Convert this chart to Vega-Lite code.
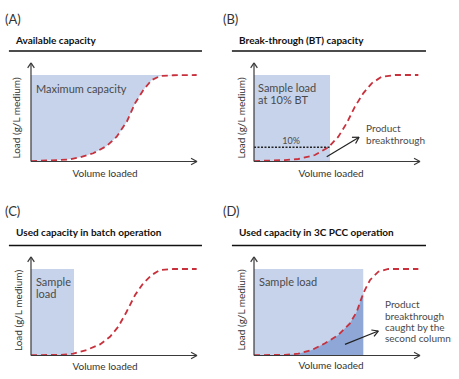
{
  "$schema": "https://vega.github.io/schema/vega-lite/v6.json",
  "background": "white",
  "padding": 0,
  "spacing": 0,
  "columns": 2,
  "bounds": "flush",
  "config": {"view": {"stroke": null}, "text": {"font": "Lato"}},
  "concat": [
        {
          "width": 222, "height": 189,
          "encoding": {
            "x": {"field": "x", "type": "quantitative", "scale": {"domain": [-18.67, 115.06], "nice": false, "zero": false}, "axis": null},
            "y": {"field": "y", "type": "quantitative", "scale": {"domain": [-31.79, 186.71], "nice": false, "zero": false}, "axis": null}
          },
          "layer": [
            {"data": {"values": [{"x":0,"y":0.5},{"x":17.5,"y":1.7},{"x":23.5,"y":2.5},{"x":29.5,"y":4.9},{"x":37.5,"y":9.5},{"x":45.6,"y":17.9},{"x":51.6,"y":28.7},{"x":57.7,"y":46.0},{"x":62.7,"y":67.3},{"x":67.7,"y":82.7},{"x":72.7,"y":94.2},{"x":77.7,"y":98.8},{"x":85.7,"y":99.7},{"x":99.8,"y":100}]},
             "mark": {"type": "area", "color": "#c6d3ea"}, "encoding": {"y2": {"datum": 100}}},
            {"data": {"values": [{"x":0,"y":0.5},{"x":17.5,"y":1.7},{"x":23.5,"y":2.5},{"x":29.5,"y":4.9},{"x":37.5,"y":9.5},{"x":45.6,"y":17.9},{"x":51.6,"y":28.7},{"x":57.7,"y":46.0},{"x":62.7,"y":67.3},{"x":67.7,"y":82.7},{"x":72.7,"y":94.2},{"x":77.7,"y":98.8},{"x":85.7,"y":99.7},{"x":99.8,"y":100}]},
             "mark": {"type": "line", "color": "#c8303c", "strokeDash": [6, 4], "strokeWidth": 1.8}},
            {"data": {"values": [{"x":0,"y":0,"x2":0,"y2":114},{"x":0,"y":0,"x2":100,"y2":0},{"x":0,"y":114,"x2":-2,"y2":108.2},{"x":0,"y":114,"x2":2,"y2":108.2},{"x":100,"y":0,"x2":96.4,"y2":3.8},{"x":100,"y":0,"x2":96.4,"y2":-3.8}]},
             "mark": {"type": "rule", "color": "#3a3a3a", "strokeWidth": 1.2}, "encoding": {"x2": {"field": "x2"}, "y2": {"field": "y2"}}},
            {"data": {"values": [{"x":-13.3,"y":127.7,"x2":103,"y2":127.7}]},
             "mark": {"type": "rule", "color": "#111", "strokeWidth": 1.6}, "encoding": {"x2": {"field": "x2"}, "y2": {"field": "y2"}}},
            {"data": {"values": [{"x":-15.7,"y":158.4,"label":"(A)"}]},
             "mark": {"type": "text", "align": "left", "baseline": "alphabetic", "fontSize": 13, "color": "#333"}, "encoding": {"text": {"field": "label"}}},
            {"data": {"values": [{"x":-9.0,"y":135.8,"label":"Available capacity"}]},
             "mark": {"type": "text", "align": "left", "baseline": "alphabetic", "fontSize": 10, "fontWeight": "bold", "color": "#111"}, "encoding": {"text": {"field": "label"}}},
            {"data": {"values": [{"x":3.0,"y":79.2,"label":"Maximum capacity"}]},
             "mark": {"type": "text", "align": "left", "baseline": "alphabetic", "fontSize": 11, "color": "#4a4a4a"}, "encoding": {"text": {"field": "label"}}},
            {"data": {"values": [{"x":44.6,"y":-13.9,"label":"Volume loaded"}]},
             "mark": {"type": "text", "align": "center", "baseline": "middle", "fontSize": 10, "color": "#333"}, "encoding": {"text": {"field": "label"}}},
            {"data": {"values": [{"x":-8.4,"y":50.3,"label":"Load (g/L medium)"}]},
             "mark": {"type": "text", "align": "center", "baseline": "middle", "fontSize": 10, "angle": 270, "color": "#333"}, "encoding": {"text": {"field": "label"}}}
          ]
        },
        {
          "width": 237, "height": 189,
          "encoding": {
            "x": {"field": "x", "type": "quantitative", "scale": {"domain": [-19.28, 123.49], "nice": false, "zero": false}, "axis": null},
            "y": {"field": "y", "type": "quantitative", "scale": {"domain": [-31.79, 186.71], "nice": false, "zero": false}, "axis": null}
          },
          "layer": [
            {"data": {"values": [{"x":0,"y":0,"x2":45.8,"y2":100}]},
             "mark": {"type": "rect", "color": "#c6d3ea"}, "encoding": {"x2": {"field": "x2"}, "y2": {"field": "y2"}}},
            {"data": {"values": [{"x":0,"y":16.5,"x2":45.8,"y2":16.5}]},
             "mark": {"type": "rule", "color": "#222", "strokeWidth": 1.5, "strokeDash": [2, 1.5]}, "encoding": {"x2": {"field": "x2"}, "y2": {"field": "y2"}}},
            {"data": {"values": [{"x":0,"y":0.5},{"x":18.7,"y":1.7},{"x":26.7,"y":2.9},{"x":36.7,"y":7.5},{"x":44.8,"y":16.4},{"x":50.8,"y":28.7},{"x":55.8,"y":44.2},{"x":60.8,"y":63.4},{"x":65.8,"y":78.8},{"x":70.9,"y":90.4},{"x":76.9,"y":98},{"x":84.9,"y":100},{"x":99,"y":100}]},
             "mark": {"type": "line", "color": "#c8303c", "strokeDash": [6, 4], "strokeWidth": 1.8}},
            {"data": {"values": [{"x":0,"y":0,"x2":0,"y2":114},{"x":0,"y":0,"x2":100,"y2":0},{"x":0,"y":114,"x2":-2,"y2":108.2},{"x":0,"y":114,"x2":2,"y2":108.2},{"x":100,"y":0,"x2":96.4,"y2":3.8},{"x":100,"y":0,"x2":96.4,"y2":-3.8}]},
             "mark": {"type": "rule", "color": "#3a3a3a", "strokeWidth": 1.2}, "encoding": {"x2": {"field": "x2"}, "y2": {"field": "y2"}}},
            {"data": {"values": [{"x":43.8,"y":5.5,"x2":63.3,"y2":28.0},{"x":63.3,"y":28.0,"x2":59.0,"y2":28.0},{"x":63.3,"y":28.0,"x2":61.2,"y2":20.8}]},
             "mark": {"type": "rule", "color": "#222", "strokeWidth": 1.2}, "encoding": {"x2": {"field": "x2"}, "y2": {"field": "y2"}}},
            {"data": {"values": [{"x":-13.3,"y":127.7,"x2":103.6,"y2":127.7}]},
             "mark": {"type": "rule", "color": "#111", "strokeWidth": 1.6}, "encoding": {"x2": {"field": "x2"}, "y2": {"field": "y2"}}},
            {"data": {"values": [{"x":-18.7,"y":158.4,"label":"(B)"}]},
             "mark": {"type": "text", "align": "left", "baseline": "alphabetic", "fontSize": 13, "color": "#333"}, "encoding": {"text": {"field": "label"}}},
            {"data": {"values": [{"x":-9.0,"y":135.8,"label":"Break-through (BT) capacity"}]},
             "mark": {"type": "text", "align": "left", "baseline": "alphabetic", "fontSize": 10, "fontWeight": "bold", "color": "#111"}, "encoding": {"text": {"field": "label"}}},
            {"data": {"values": [{"x":2.4,"y":79.8,"label":"Sample load"},{"x":2.4,"y":65.9,"label":"at 10% BT"}]},
             "mark": {"type": "text", "align": "left", "baseline": "alphabetic", "fontSize": 11, "color": "#4a4a4a"}, "encoding": {"text": {"field": "label"}}},
            {"data": {"values": [{"x":22.3,"y":19.7,"label":"10%"}]},
             "mark": {"type": "text", "align": "center", "baseline": "alphabetic", "fontSize": 9, "color": "#4a4a4a"}, "encoding": {"text": {"field": "label"}}},
            {"data": {"values": [{"x":67.5,"y":34.1,"label":"Product"},{"x":67.5,"y":20.8,"label":"breakthrough"}]},
             "mark": {"type": "text", "align": "left", "baseline": "alphabetic", "fontSize": 10, "color": "#4a4a4a"}, "encoding": {"text": {"field": "label"}}},
            {"data": {"values": [{"x":46.4,"y":-13.9,"label":"Volume loaded"}]},
             "mark": {"type": "text", "align": "center", "baseline": "middle", "fontSize": 10, "color": "#333"}, "encoding": {"text": {"field": "label"}}},
            {"data": {"values": [{"x":-7.5,"y":50.3,"label":"Load (g/L medium)"}]},
             "mark": {"type": "text", "align": "center", "baseline": "middle", "fontSize": 10, "angle": 270, "color": "#333"}, "encoding": {"text": {"field": "label"}}}
          ]
        },
        {
          "width": 222, "height": 190,
          "encoding": {
            "x": {"field": "x", "type": "quantitative", "scale": {"domain": [-18.67, 115.06], "nice": false, "zero": false}, "axis": null},
            "y": {"field": "y", "type": "quantitative", "scale": {"domain": [-27.17, 192.49], "nice": false, "zero": false}, "axis": null}
          },
          "layer": [
            {"data": {"values": [{"x":0,"y":0,"x2":25.9,"y2":100}]},
             "mark": {"type": "rect", "color": "#c6d3ea"}, "encoding": {"x2": {"field": "x2"}, "y2": {"field": "y2"}}},
            {"data": {"values": [{"x":0,"y":0.5},{"x":17.5,"y":0.6},{"x":25.5,"y":2.1},{"x":33.6,"y":6.4},{"x":41.6,"y":12.9},{"x":47.6,"y":21.7},{"x":52.6,"y":33.3},{"x":57.6,"y":50.6},{"x":62.7,"y":69.9},{"x":67.6,"y":83.5},{"x":72.7,"y":93.1},{"x":77.7,"y":98.8},{"x":85.7,"y":100},{"x":99.8,"y":100}]},
             "mark": {"type": "line", "color": "#c8303c", "strokeDash": [6, 4], "strokeWidth": 1.8}},
            {"data": {"values": [{"x":0,"y":0,"x2":0,"y2":114},{"x":0,"y":0,"x2":100,"y2":0},{"x":0,"y":114,"x2":-2,"y2":108.2},{"x":0,"y":114,"x2":2,"y2":108.2},{"x":100,"y":0,"x2":96.4,"y2":3.8},{"x":100,"y":0,"x2":96.4,"y2":-3.8}]},
             "mark": {"type": "rule", "color": "#3a3a3a", "strokeWidth": 1.2}, "encoding": {"x2": {"field": "x2"}, "y2": {"field": "y2"}}},
            {"data": {"values": [{"x":-13.3,"y":127.2,"x2":103,"y2":127.2}]},
             "mark": {"type": "rule", "color": "#111", "strokeWidth": 1.6}, "encoding": {"x2": {"field": "x2"}, "y2": {"field": "y2"}}},
            {"data": {"values": [{"x":-15.7,"y":161.3,"label":"(C)"}]},
             "mark": {"type": "text", "align": "left", "baseline": "alphabetic", "fontSize": 13, "color": "#333"}, "encoding": {"text": {"field": "label"}}},
            {"data": {"values": [{"x":-9.0,"y":138.2,"label":"Used capacity in batch operation"}]},
             "mark": {"type": "text", "align": "left", "baseline": "alphabetic", "fontSize": 10, "fontWeight": "bold", "color": "#111"}, "encoding": {"text": {"field": "label"}}},
            {"data": {"values": [{"x":3.0,"y":80.7,"label":"Sample"},{"x":3.0,"y":66.1,"label":"load"}]},
             "mark": {"type": "text", "align": "left", "baseline": "alphabetic", "fontSize": 11, "color": "#4a4a4a"}, "encoding": {"text": {"field": "label"}}},
            {"data": {"values": [{"x":44.6,"y":-13.3,"label":"Volume loaded"}]},
             "mark": {"type": "text", "align": "center", "baseline": "middle", "fontSize": 10, "color": "#333"}, "encoding": {"text": {"field": "label"}}},
            {"data": {"values": [{"x":-7.5,"y":52,"label":"Load (g/L medium)"}]},
             "mark": {"type": "text", "align": "center", "baseline": "middle", "fontSize": 10, "angle": 270, "color": "#333"}, "encoding": {"text": {"field": "label"}}}
          ]
        },
        {
          "width": 237, "height": 190,
          "encoding": {
            "x": {"field": "x", "type": "quantitative", "scale": {"domain": [-19.28, 123.49], "nice": false, "zero": false}, "axis": null},
            "y": {"field": "y", "type": "quantitative", "scale": {"domain": [-27.17, 192.49], "nice": false, "zero": false}, "axis": null}
          },
          "layer": [
            {"data": {"values": [{"x":0,"y":0,"x2":65.8,"y2":100}]},
             "mark": {"type": "rect", "color": "#c6d3ea"}, "encoding": {"x2": {"field": "x2"}, "y2": {"field": "y2"}}},
            {"data": {"values": [{"x":0,"y":0.5},{"x":18.7,"y":0.6},{"x":26.7,"y":2.1},{"x":34.8,"y":6.4},{"x":42.8,"y":14.1},{"x":50.8,"y":23.7},{"x":57.8,"y":37.2},{"x":61.9,"y":50.6},{"x":65.8,"y":71.9}]},
             "mark": {"type": "area", "color": "#8fa7d6"}, "encoding": {"y2": {"datum": 0}}},
            {"data": {"values": [{"x":0,"y":0.5},{"x":18.7,"y":0.6},{"x":26.7,"y":2.1},{"x":34.8,"y":6.4},{"x":42.8,"y":14.1},{"x":50.8,"y":23.7},{"x":57.8,"y":37.2},{"x":61.9,"y":50.6},{"x":65.8,"y":71.9},{"x":69.9,"y":87.3},{"x":74.9,"y":96.9},{"x":80.9,"y":100},{"x":99,"y":100}]},
             "mark": {"type": "line", "color": "#c8303c", "strokeDash": [6, 4], "strokeWidth": 1.8}},
            {"data": {"values": [{"x":0,"y":0,"x2":0,"y2":114},{"x":0,"y":0,"x2":100,"y2":0},{"x":0,"y":114,"x2":-2,"y2":108.2},{"x":0,"y":114,"x2":2,"y2":108.2},{"x":100,"y":0,"x2":96.4,"y2":3.8},{"x":100,"y":0,"x2":96.4,"y2":-3.8}]},
             "mark": {"type": "rule", "color": "#3a3a3a", "strokeWidth": 1.2}, "encoding": {"x2": {"field": "x2"}, "y2": {"field": "y2"}}},
            {"data": {"values": [{"x":54.8,"y":12.9,"x2":74.9,"y2":28.3},{"x":74.9,"y":28.3,"x2":70.7,"y2":29.5},{"x":74.9,"y":28.3,"x2":72.3,"y2":22.0}]},
             "mark": {"type": "rule", "color": "#222", "strokeWidth": 1.2}, "encoding": {"x2": {"field": "x2"}, "y2": {"field": "y2"}}},
            {"data": {"values": [{"x":-13.3,"y":127.2,"x2":103.6,"y2":127.2}]},
             "mark": {"type": "rule", "color": "#111", "strokeWidth": 1.6}, "encoding": {"x2": {"field": "x2"}, "y2": {"field": "y2"}}},
            {"data": {"values": [{"x":-18.7,"y":161.3,"label":"(D)"}]},
             "mark": {"type": "text", "align": "left", "baseline": "alphabetic", "fontSize": 13, "color": "#333"}, "encoding": {"text": {"field": "label"}}},
            {"data": {"values": [{"x":-9.0,"y":138.2,"label":"Used capacity in 3C PCC operation"}]},
             "mark": {"type": "text", "align": "left", "baseline": "alphabetic", "fontSize": 10, "fontWeight": "bold", "color": "#111"}, "encoding": {"text": {"field": "label"}}},
            {"data": {"values": [{"x":3.0,"y":80.7,"label":"Sample load"}]},
             "mark": {"type": "text", "align": "left", "baseline": "alphabetic", "fontSize": 11, "color": "#4a4a4a"}, "encoding": {"text": {"field": "label"}}},
            {"data": {"values": [{"x":78.9,"y":54.6,"label":"Product"},{"x":78.9,"y":41.4,"label":"breakthrough"},{"x":78.9,"y":28.4,"label":"caught by the"},{"x":78.9,"y":15.4,"label":"second column"}]},
             "mark": {"type": "text", "align": "left", "baseline": "alphabetic", "fontSize": 10, "color": "#4a4a4a"}, "encoding": {"text": {"field": "label"}}},
            {"data": {"values": [{"x":46.4,"y":-12.7,"label":"Volume loaded"}]},
             "mark": {"type": "text", "align": "center", "baseline": "middle", "fontSize": 10, "color": "#333"}, "encoding": {"text": {"field": "label"}}},
            {"data": {"values": [{"x":-7.5,"y":52.6,"label":"Load (g/L medium)"}]},
             "mark": {"type": "text", "align": "center", "baseline": "middle", "fontSize": 10, "angle": 270, "color": "#333"}, "encoding": {"text": {"field": "label"}}}
          ]
        }
  ]
}
